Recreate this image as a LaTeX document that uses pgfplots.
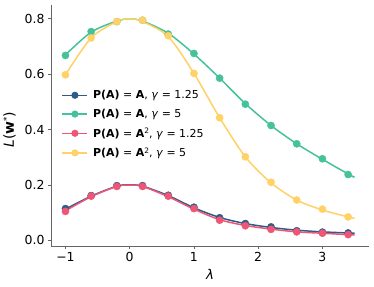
\documentclass[border=0pt]{standalone}
\usepackage{pgfplots}
\pgfplotsset{compat=1.18}
\usepackage{fontspec}
\setmainfont{DejaVu Sans}
\definecolor{cblue}{HTML}{2E5B88}
\definecolor{cgreen}{HTML}{45C29B}
\definecolor{cpink}{HTML}{EF5675}
\definecolor{cyellow}{HTML}{FFD166}
\begin{document}
\begin{tikzpicture}
\begin{axis}[
  scale only axis, width=318bp, height=241bp,
  xmin=-1.225, xmax=3.725, ymin=-0.02, ymax=0.85,
  axis lines=left, axis line style={draw=black!60, line width=0.8pt, -},
  xtick={-1,0,1,2,3}, xticklabels={−1,0,1,2,3},
  ytick={0,0.2,0.4,0.6,0.8}, yticklabels={0.0,0.2,0.4,0.6,0.8},
  tick align=outside, major tick length=3bp,
  tick style={draw=black!60, line width=0.8pt},
  tick label style={font=\fontsize{12.5}{14}\selectfont},
  xtick pos=bottom, ytick pos=left,
  every axis x label/.style={at={(rel axis cs:0.5,0)}, yshift=-28bp, anchor=center},
  every axis y label/.style={at={(rel axis cs:0,0.5)}, xshift=-41.5bp, yshift=-4bp, rotate=90, anchor=center},
  xlabel={\fontsize{13.5}{15}\selectfont\textit{λ}},
  ylabel={\fontsize{14}{16}\selectfont\textit{L}(\textbf{w}\raisebox{0.55ex}{\fontsize{8.5}{9}\selectfont *})},
  legend style={draw=none, fill=none, at={(rel axis cs:0.033,0.505)}, anchor=west,
    font=\fontsize{11}{12}\selectfont, row sep=5bp, inner xsep=0pt,
    nodes={inner xsep=5bp}},
  legend cell align=left,
  legend image code/.code={\draw[#1, mark=none, line width=1.5pt] (0cm,0cm) -- (25bp,0cm); \fill[#1, draw=none] (12.5bp,0cm) circle (3.6bp);},
  clip=false,
]
% lines (smooth curves)
\addplot[cblue, line width=1.5pt, smooth, mark=none] coordinates {
(-1,0.113) (-0.6,0.160) (-0.2,0.196) (0,0.201) (0.2,0.196) (0.6,0.162) (1.0,0.118) (1.4,0.083) (1.8,0.061) (2.2,0.047) (2.6,0.037) (3.0,0.031) (3.4,0.027) (3.5,0.026)};
\addlegendentry{\textbf{P(A)} = \textbf{A}, \textit{γ} = 1.25}
\addplot[cgreen, line width=1.5pt, smooth, mark=none] coordinates {
(-1,0.670) (-0.6,0.752) (-0.2,0.792) (0,0.800) (0.2,0.792) (0.6,0.748) (1.0,0.673) (1.4,0.586) (1.8,0.494) (2.2,0.415) (2.6,0.349) (3.0,0.293) (3.4,0.240) (3.5,0.228)};
\addlegendentry{\textbf{P(A)} = \textbf{A}, \textit{γ} = 5}
\addplot[cpink, line width=1.5pt, smooth, mark=none] coordinates {
(-1,0.107) (-0.6,0.158) (-0.2,0.195) (0,0.200) (0.2,0.195) (0.6,0.158) (1.0,0.113) (1.4,0.075) (1.8,0.054) (2.2,0.041) (2.6,0.031) (3.0,0.026) (3.4,0.021) (3.5,0.020)};
\addlegendentry{\textbf{P(A)} = \textbf{A}\raisebox{0.6ex}{\fontsize{7.5}{8}\selectfont 2}, \textit{γ} = 1.25}
\addplot[cyellow, line width=1.5pt, smooth, mark=none] coordinates {
(-1,0.598) (-0.6,0.731) (-0.2,0.790) (0,0.800) (0.2,0.790) (0.6,0.736) (1.0,0.603) (1.4,0.443) (1.8,0.302) (2.2,0.208) (2.6,0.146) (3.0,0.110) (3.4,0.085) (3.5,0.080)};
\addlegendentry{\textbf{P(A)} = \textbf{A}\raisebox{0.6ex}{\fontsize{7.5}{8}\selectfont 2}, \textit{γ} = 5}
% markers
\addplot[only marks, mark=*, mark size=3.6bp, cblue, forget plot] coordinates {
(-1,0.115) (-0.6,0.162) (-0.2,0.198) (0.2,0.198) (0.6,0.163) (1.0,0.120) (1.4,0.082) (1.8,0.061) (2.2,0.049) (2.6,0.035) (3.0,0.030) (3.4,0.027)};
\addplot[only marks, mark=*, mark size=3.6bp, cgreen, forget plot] coordinates {
(-1,0.668) (-0.6,0.754) (-0.2,0.790) (0.2,0.795) (0.6,0.745) (1.0,0.675) (1.4,0.586) (1.8,0.492) (2.2,0.415) (2.6,0.349) (3.0,0.295) (3.4,0.238)};
\addplot[only marks, mark=*, mark size=3.6bp, cpink, forget plot] coordinates {
(-1,0.105) (-0.6,0.160) (-0.2,0.195) (0.2,0.195) (0.6,0.160) (1.0,0.115) (1.4,0.073) (1.8,0.053) (2.2,0.040) (2.6,0.031) (3.0,0.026) (3.4,0.021)};
\addplot[only marks, mark=*, mark size=3.6bp, cyellow, forget plot] coordinates {
(-1,0.598) (-0.6,0.731) (-0.2,0.790) (0.2,0.795) (0.6,0.739) (1.0,0.603) (1.4,0.443) (1.8,0.302) (2.2,0.210) (2.6,0.146) (3.0,0.113) (3.4,0.085)};
\coordinate (sw) at (rel axis cs:0,0);
\coordinate (ne) at (rel axis cs:1,1);
\end{axis}
\pgfresetboundingbox
\useasboundingbox ([shift={(-51bp,-41bp)}]sw) rectangle ([shift={(5bp,5bp)}]ne);
\end{tikzpicture}
\end{document}
